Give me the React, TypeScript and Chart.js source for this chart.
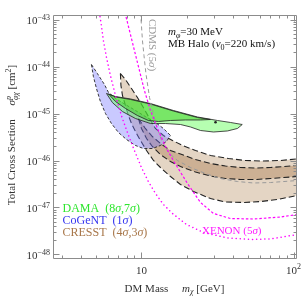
import React, { useEffect, useRef } from "react";
import { Chart, registerables } from "chart.js";

Chart.register(...registerables);

// ---- axis ranges ----
const X_MIN = 2.62;
const X_MAX = 105.4;
const Y_MIN = 8.02e-49;
const Y_MAX = 1.247e-43;

// ---- ticks ----
const X_MAJOR = [10, 100];
const X_MINOR = [3, 4, 5, 6, 7, 8, 9, 20, 30, 40, 50, 60, 70, 80, 90];
const X_TICK_BASE = ["10", "10"];
const X_TICK_EXP = ["", "2"];
const Y_MAJOR = [1e-48, 1e-47, 1e-46, 1e-45, 1e-44, 1e-43];
const Y_TICK_EXP = ["\u221248", "\u221247", "\u221246", "\u221245", "\u221244", "\u221243"];
const Y_MINOR_MULT = [2, 3, 4, 5, 6, 7, 8, 9];

// ---- data: [mass GeV, cross section cm^2] ----
const DAMA_OUTER_UPPER = [[5.89, 2.67e-45], [6.75, 2.30e-45], [8.47, 2.04e-45], [11.46, 1.63e-45], [16.2, 1.16e-45], [23.35, 8.43e-46], [31.62, 7.10e-46], [38.5, 6.44e-46], [46.0, 5.83e-46]];
const DAMA_OUTER_LOWER = [[5.89, 2.67e-45], [6.44, 1.71e-45], [7.5, 1.10e-45], [9.13, 7.83e-46], [11.46, 6.12e-46], [14.38, 6.12e-46], [18.06, 5.83e-46], [21.0, 5.17e-46], [24.44, 4.35e-46], [29.77, 4.04e-46], [36.8, 4.25e-46], [42.8, 4.80e-46], [46.0, 5.83e-46]];
const DAMA_INNER_UPPER = [[6.07, 2.60e-45], [6.75, 2.25e-45], [8.47, 1.99e-45], [11.46, 1.59e-45], [16.2, 1.13e-45], [23.35, 8.22e-46], [28.44, 7.45e-46]];
const DAMA_INNER_LOWER = [[6.07, 2.60e-45], [6.75, 1.80e-45], [7.85, 1.28e-45], [9.41, 9.06e-46], [11.1, 7.10e-46], [12.94, 6.76e-46], [15.52, 7.10e-46], [19.47, 7.28e-46], [24.44, 7.28e-46], [28.44, 7.45e-46]];
const DAMA_BEST = [[30.7, 6.5e-46]];

const COGENT_UPPER = [[4.69, 1.10e-44], [5.13, 7.10e-45], [5.71, 4.14e-45], [6.07, 2.80e-45], [6.75, 2.09e-45], [7.85, 1.55e-45], [9.13, 1.16e-45], [10.6, 8.63e-46], [12.36, 6.44e-46], [13.95, 4.80e-46], [15.52, 3.40e-46]];
const COGENT_LOWER = [[4.69, 1.10e-44], [4.83, 6.12e-45], [5.06, 3.40e-45], [5.37, 1.80e-45], [5.8, 1.0e-45], [6.35, 6.12e-46], [7.06, 3.94e-46], [7.97, 2.80e-46], [9.13, 2.09e-46], [10.3, 1.80e-46], [11.8, 1.80e-46], [13.33, 2.09e-46], [14.6, 2.54e-46], [15.52, 3.40e-46]];

const CRESST_OUTER_UPPER = [[7.27, 7.10e-45], [7.85, 5.29e-45], [8.6, 3.40e-45], [9.41, 2.19e-45], [10.3, 1.34e-45], [11.3, 7.83e-46], [12.36, 4.80e-46], [13.95, 3.40e-46], [16.0, 2.67e-46], [18.6, 2.09e-46], [22.65, 1.63e-46], [28.44, 1.28e-46], [37.35, 1.10e-46], [48.3, 1.0e-46], [62.5, 9.75e-47], [82.1, 1.0e-46], [106, 1.08e-46], [115, 1.10e-46]];
const CRESST_OUTER_LOWER = [[7.27, 7.10e-45], [7.33, 3.94e-45], [7.5, 2.42e-45], [7.85, 1.48e-45], [8.21, 9.06e-46], [8.6, 6.12e-46], [9.13, 4.14e-46], [9.85, 2.67e-46], [10.8, 1.63e-46], [12.0, 1.0e-46], [13.33, 7.10e-47], [15.52, 4.57e-47], [18.06, 3.09e-47], [22.0, 2.19e-47], [28.44, 1.55e-47], [35.7, 1.31e-47], [46.9, 1.28e-47], [60.7, 1.34e-47], [78.5, 1.48e-47], [106, 1.80e-47], [115, 1.85e-47]];
const CRESST_INNER_UPPER = [[9.56, 7.83e-46], [10.6, 4.80e-46], [11.8, 3.24e-46], [13.33, 2.30e-46], [15.52, 1.63e-46], [18.06, 1.37e-46], [22.65, 1.05e-46], [28.44, 8.63e-47], [35.7, 7.64e-47], [44.8, 7.10e-47], [56.2, 6.92e-47], [70.6, 7.10e-47], [106, 7.83e-47], [115, 8.0e-47]];
const CRESST_INNER_LOWER = [[9.56, 7.83e-46], [10.0, 4.80e-46], [10.8, 2.94e-46], [11.8, 1.99e-46], [13.33, 1.34e-46], [15.52, 9.53e-47], [18.06, 7.45e-47], [22.65, 5.69e-47], [28.44, 4.68e-47], [35.7, 4.14e-47], [44.8, 3.94e-47], [56.2, 3.94e-47], [70.6, 4.14e-47], [106, 4.57e-47], [115, 4.68e-47]];

const CDMS = [[9.85, 1.41e-43], [10.0, 7.45e-44], [10.15, 3.57e-44], [10.39, 1.71e-44], [10.7, 7.10e-45], [11.3, 2.19e-45], [11.9, 1.05e-45], [12.55, 5.56e-46], [13.54, 2.67e-46], [15.06, 1.48e-46], [17.25, 1.0e-46], [21.0, 7.10e-47], [26.37, 5.29e-47], [33.1, 4.14e-47], [42.8, 3.57e-47], [54.6, 3.32e-47], [70.6, 3.40e-47], [106, 3.75e-47], [115, 3.85e-47]];
const XENON_A = [[7.79, 1.41e-43], [8.34, 5.83e-44], [8.99, 2.19e-44], [9.7, 8.22e-45], [10.46, 3.09e-45], [11.46, 1.16e-45], [12.74, 4.80e-46], [14.38, 1.99e-46], [16.2, 1.0e-46], [20.07, 3.24e-47], [24.44, 1.28e-47], [29.77, 7.45e-48], [38.5, 5.83e-48], [54.6, 5.69e-48], [82.1, 6.28e-48], [106, 7.10e-48], [115, 7.45e-48]];
const XENON_B = [[5.29, 1.41e-43], [5.45, 7.45e-44], [5.62, 3.57e-44], [5.89, 1.55e-44], [6.25, 6.44e-45], [6.75, 2.42e-45], [7.38, 9.06e-46], [8.09, 3.94e-46], [8.99, 1.63e-46], [10.0, 7.10e-47], [11.1, 3.57e-47], [12.36, 1.99e-47], [13.95, 1.16e-47], [16.0, 7.45e-48], [19.77, 4.35e-48], [25.58, 2.94e-48], [36.8, 2.25e-48], [52.1, 2.09e-48], [70.6, 2.14e-48], [106, 2.67e-48], [115, 2.87e-48]];

const FONT = '"Liberation Serif", "Times New Roman", serif';

type Part = { t: string; it?: boolean; sz?: number; dy?: number; noAdv?: boolean };

function setFont(ctx: CanvasRenderingContext2D, p: Part, base: number) {
  ctx.font = `${p.it ? "italic " : ""}${p.sz ?? base}px ${FONT}`;
}
function richWidth(ctx: CanvasRenderingContext2D, parts: Part[], base: number) {
  let w = 0;
  for (const p of parts) {
    setFont(ctx, p, base);
    if (!p.noAdv) w += ctx.measureText(p.t).width;
  }
  return w;
}
function drawRich(ctx: CanvasRenderingContext2D, parts: Part[], x: number, y: number, base: number) {
  let cx = x;
  for (const p of parts) {
    setFont(ctx, p, base);
    ctx.fillText(p.t, cx, y + (p.dy ?? 0));
    if (!p.noAdv) cx += ctx.measureText(p.t).width;
  }
}

const decorPlugin = {
  id: "decor",
  afterDatasetsDraw(chart: any) {
    const { ctx, chartArea: a } = chart;
    const xs = chart.scales.x;
    const ys = chart.scales.y;
    ctx.save();
    ctx.setLineDash([]);
    const L = a.left + 0.5, R = a.right - 0.5, T = a.top + 0.5, B = a.bottom - 0.5;
    ctx.strokeStyle = "#8c8c8c";
    ctx.lineWidth = 1;
    ctx.beginPath();
    ctx.rect(L, T, R - L, B - T);
    ctx.stroke();

    ctx.beginPath();
    const seg = (x1: number, y1: number, x2: number, y2: number) => { ctx.moveTo(x1, y1); ctx.lineTo(x2, y2); };
    for (const v of X_MAJOR) {
      const px = Math.round(xs.getPixelForValue(v)) + 0.5;
      seg(px, B, px, B - 6); seg(px, T, px, T + 6);
    }
    for (const v of X_MINOR) {
      const px = Math.round(xs.getPixelForValue(v)) + 0.5;
      seg(px, B, px, B - 3); seg(px, T, px, T + 3);
    }
    for (const v of Y_MAJOR) {
      const py = Math.round(ys.getPixelForValue(v)) + 0.5;
      seg(L, py, L + 6, py); seg(R, py, R - 6, py);
      for (const m of Y_MINOR_MULT) {
        const w = v * m;
        if (w > Y_MAX) continue;
        const q = Math.round(ys.getPixelForValue(w)) + 0.5;
        seg(L, q, L + 3, q); seg(R, q, R - 3, q);
      }
    }
    ctx.stroke();

    // tick labels
    ctx.fillStyle = "#333";
    ctx.textBaseline = "alphabetic";
    ctx.textAlign = "left";
    Y_MAJOR.forEach((v, i) => {
      const py = ys.getPixelForValue(v);
      const parts: Part[] = [{ t: "10" }, { t: Y_TICK_EXP[i], sz: 8, dy: -4 }];
      const w = richWidth(ctx, parts, 11);
      drawRich(ctx, parts, 50 - w, py + 4.5, 11);
    });
    X_MAJOR.forEach((v, i) => {
      const px = xs.getPixelForValue(v);
      const parts: Part[] = [{ t: X_TICK_BASE[i] }];
      if (X_TICK_EXP[i]) parts.push({ t: X_TICK_EXP[i], sz: 8, dy: -4.5 });
      const w = richWidth(ctx, parts, 11);
      drawRich(ctx, parts, px - w / 2, 273.5, 11);
    });

    // axis titles
    const xt: Part[] = [{ t: "DM Mass" }, { t: "\u2003 " }, { t: "m", it: true }, { t: "\u03c7", it: true, sz: 8, dy: 2.5 }, { t: " [GeV]" }];
    const xw = richWidth(ctx, xt, 11);
    drawRich(ctx, xt, 174.5 - xw / 2, 291.5, 11);

    const yt: Part[] = [
      { t: "Total Cross Section" }, { t: "\u2003 " }, { t: "\u03c3", it: true },
      { t: "p", it: true, sz: 8, dy: -4.5, noAdv: true }, { t: "\u03c6\u03c7", it: true, sz: 8, dy: 2.5 },
      { t: " [cm" }, { t: "2", sz: 8, dy: -4.5 }, { t: "]" },
    ];
    const yw = richWidth(ctx, yt, 11);
    ctx.save();
    ctx.translate(15, 135);
    ctx.rotate(-Math.PI / 2);
    drawRich(ctx, yt, -yw / 2, 0, 11);
    ctx.restore();

    // annotation
    ctx.fillStyle = "#111";
    drawRich(ctx, [{ t: "m", it: true }, { t: "\u03c6", it: true, sz: 8, dy: 2.5 }, { t: "=30 MeV" }], 168, 35, 11);
    drawRich(ctx, [{ t: "MB Halo (" }, { t: "v", it: true }, { t: "0", sz: 8, dy: 2.5 }, { t: "=220 km/s)" }], 168, 47, 11);

    // legend
    const leg: [string, string, string][] = [
      ["DAMA  (8", ",7", "#2ee62e"],
      ["CoGeNT  (1", "", "#3535f0"],
      ["CRESST  (4", ",3", "#a8774a"],
    ];
    leg.forEach(([a1, a2, col], i) => {
      ctx.fillStyle = col;
      const parts: Part[] = [{ t: a1 }, { t: "\u03c3", it: true }];
      if (a2) parts.push({ t: a2 }, { t: "\u03c3", it: true });
      parts.push({ t: ")" });
      drawRich(ctx, parts, 62.5, 212 + i * 12, 12);
    });

    // XENON label
    ctx.fillStyle = "#ff1aff";
    drawRich(ctx, [{ t: "XENON (5" }, { t: "\u03c3", it: true }, { t: ")" }], 202, 234, 11);

    // CDMS label
    ctx.fillStyle = "#9a9a9a";
    const cd: Part[] = [{ t: "CDMS (5" }, { t: "\u03c3", it: true }, { t: ")" }];
    const cw = richWidth(ctx, cd, 11);
    ctx.save();
    ctx.translate(148.5, 45);
    ctx.rotate(Math.PI / 2);
    drawRich(ctx, cd, -cw / 2, 0, 11);
    ctx.restore();

    ctx.restore();
  },
};

const pts = (arr: number[][]) => arr.map(([x, y]) => ({ x, y }));
const edge = (arr: number[][], color: string, width: number, dash: number[], extra: any = {}) => ({
  data: pts(arr),
  borderColor: color,
  borderWidth: width,
  borderDash: dash,
  pointRadius: 0,
  pointHoverRadius: 0,
  fill: false,
  tension: 0,
  ...extra,
});

export default function App() {
  const ref = useRef<HTMLCanvasElement | null>(null);
  useEffect(() => {
    if (!ref.current) return;
    const chart = new Chart(ref.current, {
      type: "line",
      data: {
        datasets: [
          { data: pts(DAMA_BEST), showLine: false, pointRadius: 1.3, pointBackgroundColor: "#222", pointBorderWidth: 0, fill: false },
          edge(XENON_A, "#ff00ff", 1.2, [2.5, 2]),
          edge(XENON_B, "#ff00ff", 1.5, [0.1, 4], { borderCapStyle: "round" }),
          edge(CDMS, "#999999", 1, [4, 3]),
          edge(DAMA_INNER_UPPER, "#222", 0.8, []),
          edge(DAMA_INNER_LOWER, "#222", 0.8, [], { fill: "-1", backgroundColor: "rgba(60,205,30,0.5)" }),
          edge(DAMA_OUTER_UPPER, "#222", 0.8, []),
          edge(DAMA_OUTER_LOWER, "#222", 0.8, [], { fill: "-1", backgroundColor: "rgba(110,255,100,0.5)" }),
          edge(COGENT_UPPER, "#222", 0.9, [3, 2]),
          edge(COGENT_LOWER, "#222", 0.9, [3, 2], { fill: "-1", backgroundColor: "rgba(120,120,255,0.4)" }),
          edge(CRESST_INNER_UPPER, "#222", 1.1, [6, 3]),
          edge(CRESST_INNER_LOWER, "#222", 1.1, [6, 3], { fill: "-1", backgroundColor: "rgba(160,110,60,0.35)" }),
          edge(CRESST_OUTER_UPPER, "#222", 1.1, [6, 3]),
          edge(CRESST_OUTER_LOWER, "#222", 1.1, [6, 3], { fill: "-1", backgroundColor: "rgba(185,145,100,0.38)" }),
        ] as any,
      },
      options: {
        animation: false,
        responsive: false,
        devicePixelRatio: 1,
        layout: { padding: { left: 53, top: 15, right: 4, bottom: 40 } },
        scales: {
          x: { type: "logarithmic", min: X_MIN, max: X_MAX, display: false },
          y: { type: "logarithmic", min: Y_MIN, max: Y_MAX, display: false },
        },
        plugins: { legend: { display: false }, tooltip: { enabled: false } },
        events: [],
      } as any,
      plugins: [decorPlugin as any],
    });
    return () => chart.destroy();
  }, []);
  return (
    <div style={{ position: "fixed", left: 0, top: 0, width: 301, height: 299, background: "#fff" }}>
      <canvas ref={ref} width={301} height={299} style={{ display: "block" }} />
    </div>
  );
}
